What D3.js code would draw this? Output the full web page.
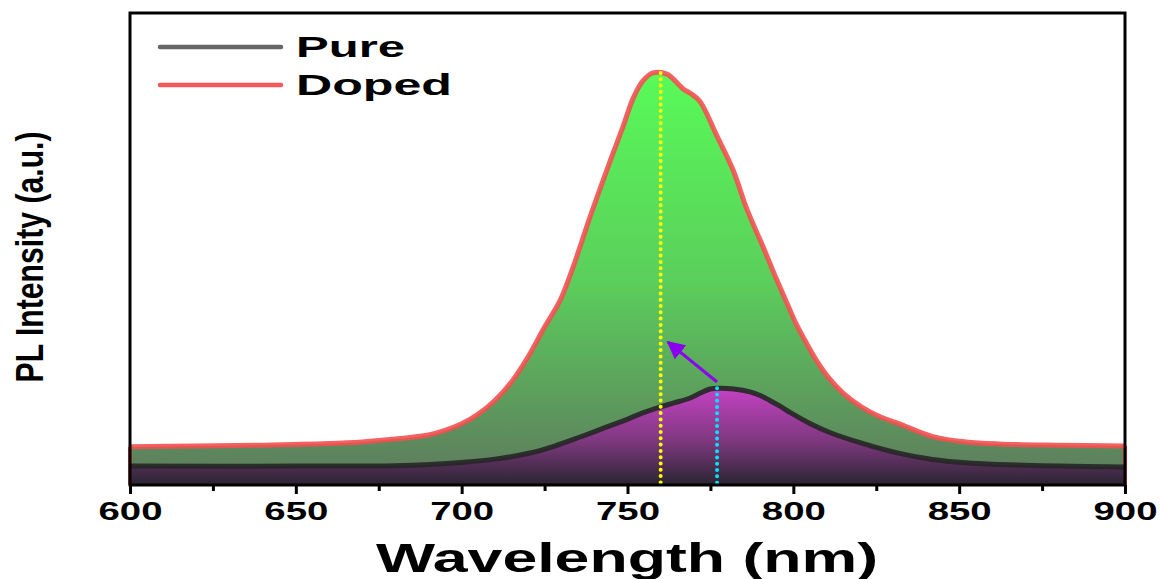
<!DOCTYPE html>
<html lang="en">
<head>
<meta charset="utf-8">
<title>PL spectra</title>
<script src="https://d3js.org/d3.v7.min.js"></script>
<style>
body { margin: 0; background: #fff; }
svg text { font-family: "Liberation Sans", Arial, sans-serif; font-weight: bold; fill: #000; }
</style>
</head>
<body>
<div id="plot"></div>
<script>
var width = 1161, height = 579;

// wavelength (nm) and PL intensity (a.u.)
var dopedWl  = [600, 620, 640, 660, 670, 680, 690, 695, 700, 705, 710, 715, 720, 725, 728, 730, 733.6, 738.7, 743.8, 748.6, 751.7, 754.7, 757.7, 761.9, 766.8, 768.8, 771.8, 776.8, 781.8, 786, 790.9, 795, 798.1, 801, 804, 807, 810.5, 815, 820.6, 826, 832, 842, 852, 862, 880, 900];
var dopedVal = [0.093, 0.095, 0.097, 0.101, 0.105, 0.112, 0.122, 0.133, 0.149, 0.173, 0.206, 0.251, 0.312, 0.385, 0.425, 0.455, 0.531, 0.653, 0.768, 0.872, 0.942, 0.985, 1.004, 1.001, 0.965, 0.955, 0.935, 0.853, 0.768, 0.672, 0.580, 0.500, 0.443, 0.390, 0.345, 0.303, 0.263, 0.224, 0.190, 0.167, 0.149, 0.118, 0.105, 0.100, 0.097, 0.095];

var pureWl  = [600, 650, 680, 690.5, 700, 710, 720.6, 728, 735.7, 743, 750.8, 755, 759.8, 764, 768.9, 772, 774.9, 777.9, 782, 786.9, 790, 792.9, 796, 799, 805, 811, 820.6, 832, 842, 852, 862, 880, 900];
var pureVal = [0.046, 0.046, 0.047, 0.050, 0.055, 0.063, 0.078, 0.095, 0.117, 0.139, 0.163, 0.177, 0.190, 0.200, 0.212, 0.224, 0.234, 0.236, 0.234, 0.227, 0.218, 0.206, 0.192, 0.177, 0.150, 0.128, 0.102, 0.077, 0.062, 0.054, 0.050, 0.046, 0.044];

var peakWl = [760, 777];            // doped, pure
var arrowFrom = [777, 0.251], arrowTo = [762.2, 0.348];
var majorTicks = [600, 650, 700, 750, 800, 850, 900];
var minorTicks = [625, 675, 725, 775, 825, 875];
var seriesNames = ["Pure", "Doped"];

var svg = d3.select("#plot").append("svg")
  .attr("width", width).attr("height", height);

var x = d3.scaleLinear().domain([600, 900]).range([130, 1125]);
var y = d3.scaleLinear().domain([0, 1.15]).range([485, 13]);

var defs = svg.append("defs");
var gD = defs.append("linearGradient").attr("id", "gDoped")
  .attr("gradientUnits", "userSpaceOnUse")
  .attr("x1", 0).attr("x2", 0).attr("y1", y(1.0)).attr("y2", y(0));
gD.append("stop").attr("offset", 0).attr("stop-color", "#58fa58");
gD.append("stop").attr("offset", 0.5).attr("stop-color", "#5bcf5b");
gD.append("stop").attr("offset", 1).attr("stop-color", "#5e785e");

var gP = defs.append("linearGradient").attr("id", "gPure")
  .attr("gradientUnits", "userSpaceOnUse")
  .attr("x1", 0).attr("x2", 0).attr("y1", y(0.236)).attr("y2", y(0));
gP.append("stop").attr("offset", 0).attr("stop-color", "#c442c4");
gP.append("stop").attr("offset", 0.55).attr("stop-color", "#7d387e");
gP.append("stop").attr("offset", 1).attr("stop-color", "#2a2530");

var dopedPts = dopedWl.map((w, i) => [w, dopedVal[i]]);
var purePts = pureWl.map((w, i) => [w, pureVal[i]]);

var crv = d3.curveCatmullRom.alpha(0.5);
var area = d3.area().x(d => x(d[0])).y0(y(0)).y1(d => y(d[1])).curve(crv);
var line = d3.line().x(d => x(d[0])).y(d => y(d[1])).curve(crv);

// doped
svg.append("path").attr("d", area(dopedPts)).attr("fill", "url(#gDoped)");
svg.append("line").attr("x1", x(600)).attr("x2", x(600)).attr("y1", y(dopedVal[0])).attr("y2", y(0))
  .attr("stroke", "#f04848").attr("stroke-width", 4);
svg.append("line").attr("x1", x(900)).attr("x2", x(900)).attr("y1", y(dopedVal[dopedVal.length-1])).attr("y2", y(0))
  .attr("stroke", "#f04848").attr("stroke-width", 4);
svg.append("path").attr("d", line(dopedPts)).attr("fill", "none")
  .attr("stroke", "#f25050").attr("stroke-opacity", 0.9).attr("stroke-width", 5)
  .attr("stroke-linejoin", "round");

// pure
svg.append("path").attr("d", area(purePts)).attr("fill", "url(#gPure)");
svg.append("path").attr("d", line(purePts)).attr("fill", "none")
  .attr("stroke", "#262626").attr("stroke-opacity", 0.9).attr("stroke-width", 5)
  .attr("stroke-linejoin", "round");

// peak markers
var peakTop = [d3.max(dopedVal), d3.max(pureVal)];
var dotColors = ["#ffff00", "#00e5ff"];
peakWl.forEach(function(w, i) {
  svg.append("line")
    .attr("x1", x(w)).attr("x2", x(w))
    .attr("y1", y(peakTop[i])).attr("y2", y(0) - 2)
    .attr("stroke", dotColors[i]).attr("stroke-width", 4)
    .attr("stroke-linecap", "round").attr("stroke-dasharray", "0,6.3");
});

// arrow
defs.append("marker").attr("id", "arr")
  .attr("viewBox", "0 0 10 10").attr("refX", 9).attr("refY", 5)
  .attr("markerWidth", 6).attr("markerHeight", 6).attr("orient", "auto")
  .attr("markerUnits", "strokeWidth")
  .append("path").attr("d", "M0,0 L10,5 L0,10 z").attr("fill", "#8a00f0");
svg.append("line")
  .attr("x1", x(arrowFrom[0])).attr("y1", y(arrowFrom[1]))
  .attr("x2", x(arrowTo[0])).attr("y2", y(arrowTo[1]))
  .attr("stroke", "#8a00f0").attr("stroke-width", 3).attr("marker-end", "url(#arr)");

// frame
svg.append("rect").attr("x", 130).attr("y", 13).attr("width", 995).attr("height", 472)
  .attr("fill", "none").attr("stroke", "#000").attr("stroke-width", 3);

// x axis
var xMinor = svg.append("g").attr("transform", "translate(0,485)")
  .call(d3.axisBottom(x).tickValues(minorTicks).tickSize(6).tickFormat(""));
var xMajor = svg.append("g").attr("transform", "translate(0,485)")
  .call(d3.axisBottom(x).tickValues(majorTicks).tickSize(9).tickFormat(d3.format("d")));
[xMinor, xMajor].forEach(function(g) {
  g.select(".domain").remove();
  g.selectAll(".tick line").attr("stroke", "#000").attr("stroke-width", 3);
});
xMajor.selectAll(".tick text")
  .attr("y", 35).attr("dy", 0)
  .style("font-size", "25px")
  .attr("textLength", 64).attr("lengthAdjust", "spacingAndGlyphs")
  .attr("x", 0);

svg.append("text").attr("x", 627).attr("y", 572).attr("text-anchor", "middle")
  .style("font-size", "41px")
  .attr("textLength", 502).attr("lengthAdjust", "spacingAndGlyphs")
  .text("Wavelength (nm)");

svg.append("text")
  .attr("transform", "translate(43,257) rotate(-90)")
  .attr("text-anchor", "middle")
  .style("font-size", "38px")
  .attr("textLength", 251).attr("lengthAdjust", "spacingAndGlyphs")
  .text("PL Intensity (a.u.)");

// legend
var legColors = ["#666666", "#f55a5a"];
var legY = [47, 85];
var legLen = [109, 156];
seriesNames.forEach(function(n, i) {
  svg.append("line").attr("x1", 160).attr("x2", 281)
    .attr("y1", legY[i]).attr("y2", legY[i])
    .attr("stroke", legColors[i]).attr("stroke-width", 4.5).attr("stroke-linecap", "round");
  svg.append("text").attr("x", 296).attr("y", legY[i] + 10)
    .style("font-size", "29px")
    .attr("textLength", legLen[i]).attr("lengthAdjust", "spacingAndGlyphs")
    .text(n);
});
</script>
</body>
</html>
